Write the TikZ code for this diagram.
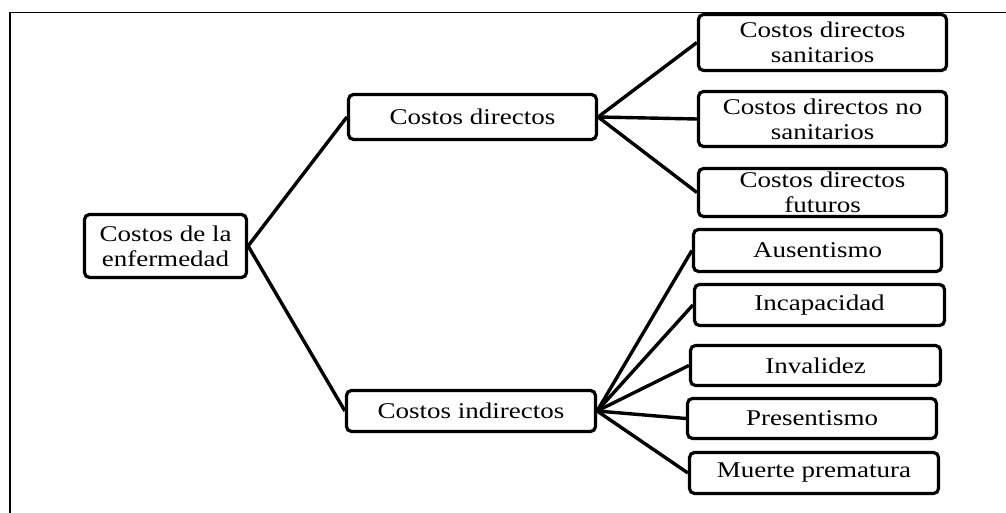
\documentclass[tikz,border=0pt]{standalone}
\usepackage{fontspec}
\setmainfont{Liberation Serif}[FakeStretch=1.2]
\begin{document}
\begin{tikzpicture}[x=1pt,y=1pt,
  box/.style={draw,line width=3.2pt,rounded corners=5pt,align=center,inner sep=0pt,
    font=\fontsize{22.5}{25}\selectfont},
  link/.style={line width=3.4pt}]
\useasboundingbox (0,0) rectangle (1006,513);
% frame
\draw[line width=1.8pt] (10,0) -- (10,500.5) -- (1006,500.5);
% nodes
\node[box,minimum width=162pt,minimum height=63pt] (root) at (165.5,267) {Costos de la\\enfermedad};
\node[box,minimum width=248pt,minimum height=45pt] (cd) at (472.5,396) {Costos directos};
\node[box,minimum width=249pt,minimum height=41pt] (ci) at (471,102) {Costos indirectos};
\node[box,minimum width=248pt,minimum height=56pt] (d1) at (822.5,470.5) {Costos directos\\sanitarios};
\node[box,minimum width=248pt,minimum height=55pt] (d2) at (822.5,394) {Costos directos no\\sanitarios};
\node[box,minimum width=248pt,minimum height=48pt] (d3) at (822.5,320.5) {Costos directos\\futuros};
\node[box,minimum width=248pt,minimum height=42pt] (i1) at (817.5,262.5) {Ausentismo};
\node[box,minimum width=250pt,minimum height=41pt] (i2) at (819.5,208) {Incapacidad};
\node[box,minimum width=250pt,minimum height=40pt] (i3) at (815.5,147.5) {Invalidez};
\node[box,minimum width=249pt,minimum height=40pt] (i4) at (812,94.5) {Presentismo};
\node[box,minimum width=249pt,minimum height=41pt] (i5) at (814,40) {Muerte prematura};
% connectors
\draw[link] (root.east) -- (cd.west);
\draw[link] (root.east) -- (ci.west);
\foreach \n in {d1,d2,d3} \draw[link] (cd.east) -- (\n.west);
\foreach \n in {i1,i2,i3,i4,i5} \draw[link] (ci.east) -- (\n.west);
\end{tikzpicture}
\end{document}
